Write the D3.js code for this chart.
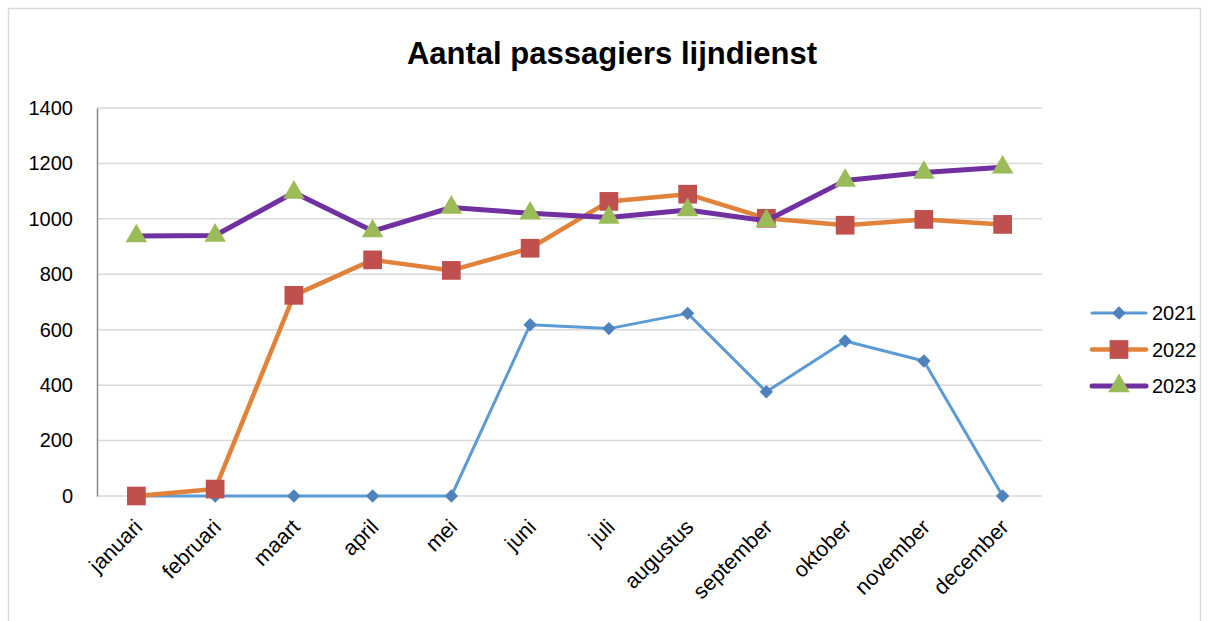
<!DOCTYPE html>
<html>
<head>
<meta charset="utf-8">
<style>
  body { margin: 0; background: #fff; }
  svg text { font-family: "Liberation Sans", Arial, sans-serif; fill: #000; }
</style>
</head>
<body>
<div id="container"></div>
<script src="https://d3js.org/d3.v7.min.js"></script>
<script>
var months = ["januari", "februari", "maart", "april", "mei", "juni", "juli",
              "augustus", "september", "oktober", "november", "december"];
var years = ["2021", "2022", "2023"];
var v2021 = [0, 0, 0, 0, 0, 618, 604, 659, 376, 559, 487, 0];
var v2022 = [0, 25, 724, 852, 814, 894, 1063, 1089, 1002, 977, 998, 980];
var v2023 = [938, 940, 1095, 956, 1041, 1020, 1005, 1032, 993, 1138, 1167, 1186];
var yTicks = [0, 200, 400, 600, 800, 1000, 1200, 1400];

var diamond = {
  draw: function(ctx, size) {
    var r = Math.sqrt(size) / 2;
    ctx.moveTo(0, -r); ctx.lineTo(r, 0); ctx.lineTo(0, r); ctx.lineTo(-r, 0); ctx.closePath();
  }
};

var series = [
  {name: years[0], values: v2021, line: "#5B9BD5", mark: "#4F81BD", shape: diamond, size: 180, lw: 3},
  {name: years[1], values: v2022, line: "#E0823A", mark: "#C0504D", shape: d3.symbolSquare, size: 350, lw: 4.5},
  {name: years[2], values: v2023, line: "#7030A0", mark: "#9BBB59", shape: d3.symbolTriangle, size: 200, lw: 5}
];

var W = 1210, H = 621;
var margin = {top: 108, right: 168, bottom: 125, left: 97};
var width = W - margin.left - margin.right,
    height = H - margin.top - margin.bottom;

var svg = d3.select("#container").append("svg")
  .attr("width", W).attr("height", H);

// outer chart border
svg.append("rect")
  .attr("x", 8.5).attr("y", 8.5)
  .attr("width", 1192).attr("height", 640)
  .attr("fill", "none").attr("stroke", "#D9D9D9").attr("stroke-width", 1.5);

svg.append("text")
  .attr("x", 612).attr("y", 64)
  .attr("text-anchor", "middle")
  .style("font-size", "31px").style("font-weight", "bold")
  .text("Aantal passagiers lijndienst");

var g = svg.append("g")
  .attr("transform", "translate(" + margin.left + "," + margin.top + ")");

var x = d3.scaleBand().domain(months).range([0, width]);
var y = d3.scaleLinear().domain([0, 1400]).range([height, 0]);

// gridlines
g.append("g").selectAll("line").data(yTicks).enter().append("line")
  .attr("x1", 0).attr("x2", width)
  .attr("y1", function(d) { return y(d); }).attr("y2", function(d) { return y(d); })
  .attr("stroke", "#D9D9D9").attr("stroke-width", 1.5);

// Y axis
var yAxis = g.append("g").call(d3.axisLeft(y).tickValues(yTicks).tickFormat(d3.format("d")).tickSize(0).tickPadding(24));
yAxis.select(".domain").attr("stroke", "#868686").attr("stroke-width", 1.5);
yAxis.selectAll("text").style("font-size", "20px").style("font-family", "Liberation Sans, Arial, sans-serif");

// X axis
var xAxis = g.append("g")
  .attr("transform", "translate(0," + height + ")")
  .call(d3.axisBottom(x).tickSize(0));
xAxis.select(".domain").remove();
xAxis.selectAll("text")
  .style("font-size", "21.5px").style("font-family", "Liberation Sans, Arial, sans-serif")
  .attr("text-anchor", "end")
  .attr("transform", "translate(2,27) rotate(-45)")
  .attr("dy", "0.35em").attr("y", 0);

var line = d3.line()
  .x(function(d, i) { return x(months[i]) + x.bandwidth() / 2; })
  .y(function(d) { return y(d); });

series.forEach(function(s) {
  g.append("path").datum(s.values)
    .attr("d", line)
    .attr("fill", "none").attr("stroke", s.line).attr("stroke-width", s.lw)
    .attr("stroke-linejoin", "round").attr("stroke-linecap", "round");
  g.append("g").selectAll("path").data(s.values).enter().append("path")
    .attr("d", d3.symbol().type(s.shape).size(s.size))
    .attr("transform", function(d, i) {
      return "translate(" + (x(months[i]) + x.bandwidth() / 2) + "," + y(d) + ")";
    })
    .attr("fill", s.mark);
});

// legend
var legend = svg.append("g").attr("transform", "translate(1092,313)");
series.forEach(function(s, i) {
  var row = legend.append("g").attr("transform", "translate(0," + (i * 36.5) + ")");
  row.append("line").attr("x1", 0).attr("x2", 54).attr("y1", 0).attr("y2", 0)
    .attr("stroke", s.line).attr("stroke-width", s.lw).attr("stroke-linecap", "round");
  row.append("path").attr("d", d3.symbol().type(s.shape).size(s.size))
    .attr("transform", "translate(27,0)").attr("fill", s.mark);
  row.append("text").attr("x", 60).attr("y", 0).attr("dy", "0.35em")
    .style("font-size", "20px").text(s.name);
});
</script>
</body>
</html>
